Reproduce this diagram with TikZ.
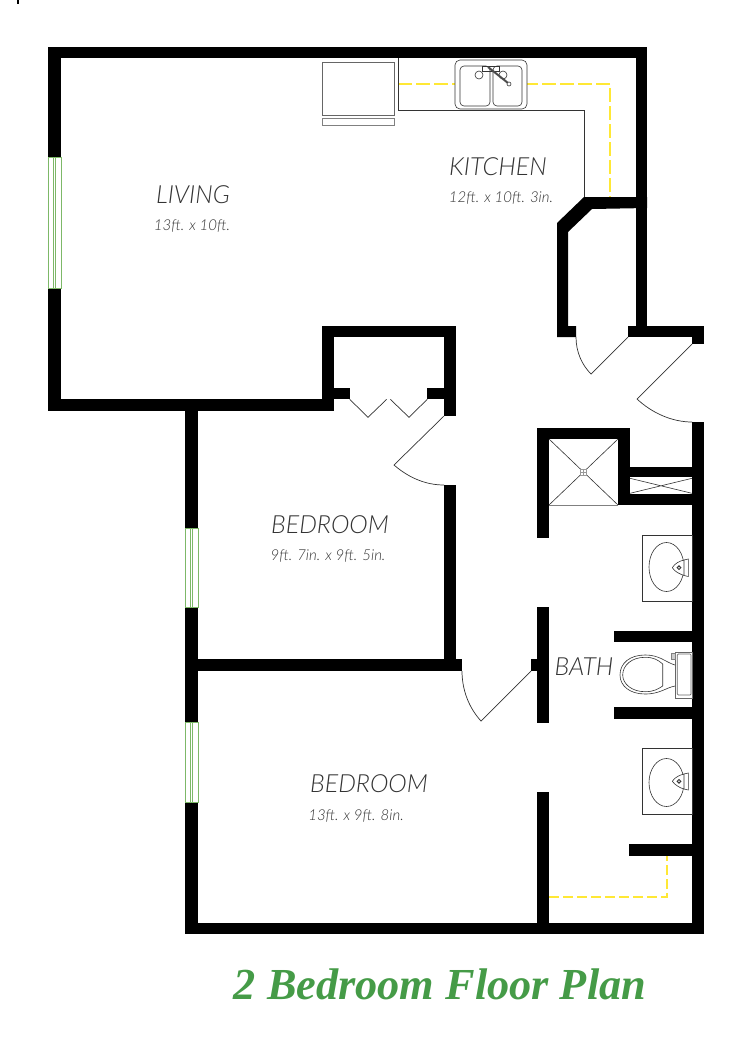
\documentclass[tikz,border=0pt]{standalone}
\usepackage{fontspec}
\setmainfont{Liberation Serif}
\newfontfamily\planfont{Lato}[UprightFont=* Light, ItalicFont=* Light Italic]
\definecolor{planyellow}{HTML}{FFE835}
\definecolor{plangreen}{HTML}{7DB868}
\definecolor{titlegreen}{HTML}{459B47}
\definecolor{plantext}{HTML}{333333}
\begin{document}
\begin{tikzpicture}[x=1pt, y=-1pt]

\useasboundingbox (0,0) rectangle (754,1037);
\tikzset{wall/.style={fill=black}};
\fill[wall] (17,0) rectangle (19,4);
\fill[wall] (48,47) rectangle (647,58);
\fill[wall] (48,47) rectangle (61,157);
\fill[wall] (48,288) rectangle (61,411);
\fill[wall] (48,399) rectangle (334,411);
\fill[wall] (636,47) rectangle (647,326);
\fill[wall] (322,326) rectangle (456,337);
\fill[wall] (322,326) rectangle (334,411);
\fill[wall] (322,388) rectangle (350,399);
\fill[wall] (444,326) rectangle (456,416);
\fill[wall] (427,388) rectangle (456,399);
\fill[wall] (444,485) rectangle (456,671);
\fill[wall] (185,399) rectangle (198,528);
\fill[wall] (185,607) rectangle (198,722);
\fill[wall] (185,802) rectangle (198,934);
\fill[wall] (185,659) rectangle (462,671);
\fill[wall] (185,923) rectangle (704,934);
\fill[wall] (584,197) -- (647,197) -- (647,208) -- (592,209) -- (568,232) -- (568,326)
  -- (576,326) -- (576,337) -- (557,337) -- (557,223) -- cycle;
\fill[wall] (628,326) rectangle (704,337);
\fill[wall] (692,326) rectangle (704,344);
\fill[wall] (692,422) rectangle (704,934);
\fill[wall] (537,428) rectangle (630,439);
\fill[wall] (537,428) rectangle (549,538);
\fill[wall] (618,428) rectangle (630,505);
\fill[wall] (618,467) rectangle (704,477);
\fill[wall] (618,494) rectangle (704,505);
\fill[wall] (537,607) rectangle (549,723);
\fill[wall] (531,659) rectangle (537,671);
\fill[wall] (537,792) rectangle (549,923);
\fill[wall] (614,631) rectangle (704,642);
\fill[wall] (614,707) rectangle (704,719);
\fill[wall] (629,844) rectangle (704,856);

\tikzset{windowpane/.style={draw=plangreen, line width=0.8pt, fill=white}};
\draw[windowpane] (48,157) rectangle (61,288);
\draw[plangreen, line width=0.6pt] (53,157) -- (53,288) (55.7,157) -- (55.7,288);
\draw[windowpane] (185,528) rectangle (198,607);
\draw[plangreen, line width=0.6pt] (190,528) -- (190,607) (192.7,528) -- (192.7,607);
\draw[windowpane] (185,722) rectangle (198,802);
\draw[plangreen, line width=0.6pt] (190,722) -- (190,802) (192.7,722) -- (192.7,802);

\tikzset{doorline/.style={draw=black!80, line width=0.7pt}};
\draw[doorline] (349.7,399.3) -- (368,417.3) -- (386.7,399.3);
\draw[doorline] (390.3,399.3) -- (409,417.3) -- (427.3,399.3);
\draw[doorline] (444,416) -- (394,465) .. controls (409,478) and (426,485) .. (444,485);
\draw[doorline] (628,337) -- (591,374) .. controls (582,365) and (576,352) .. (576,337);
\draw[doorline] (692,344) -- (637,399) .. controls (652,413) and (672,422) .. (692,422);
\draw[doorline] (531,671) -- (481,721) .. controls (469,708) and (462,690) .. (462,671);

\tikzset{yellowline/.style={draw=planyellow, line width=1.2pt, dash pattern=on 14pt off 4pt}};
\draw[yellowline] (398,84) -- (610,84) -- (610,197);
\draw[yellowline, dash pattern=on 10pt off 4pt] (549,897) -- (667,897) -- (667,856);

\tikzset{fixture/.style={draw=black!80, line width=0.6pt}};
\draw[fixture] (398,58) -- (398,110) -- (584,110) -- (584,197);
\draw[draw=black!60, line width=1pt] (322,62) rectangle (394,115);
\draw[draw=black!50, line width=1pt] (322,118) rectangle (394,125);
\draw[fixture, fill=white, rounded corners=5pt] (455,60) rectangle (527,109);
\draw[fixture, rounded corners=4pt] (460,66) rectangle (490,106);
\draw[fixture, rounded corners=4pt] (493,66) rectangle (522,106);
\draw[fixture] (479,75) circle (4);
\draw[fixture] (503,75) circle (4);
\draw[fixture] (482,66) rectangle (499,71);
\draw[draw=black!70, line width=2pt] (488,67) -- (508,83);
\draw[fixture, fill=white] (509,84) circle (2);

\draw[fixture] (549,439) -- (618,505) (618,439) -- (549,505);
\draw[draw=black!50, line width=0.8pt] (549,505) -- (618,505);
\draw[draw=black!40, fill=white, line width=0.5pt] (580,469) rectangle (586,475);
\draw[draw=black!40, line width=0.4pt] (583,469) -- (583,475) (580,472) -- (586,472);
\draw[fixture] (630,478.3) -- (692,493.3) (630,493.3) -- (692,478.3);

\draw[fixture] (642,535) rectangle (692,601);
\draw[fixture] (666.5,567) ellipse (17.5 and 24.5);
\draw[fixture, fill=white] (684,560) -- (688.3,559) -- (688.3,576.5) -- (684,575.5);
\draw[fixture, fill=white] (672.3,567.7) .. controls (675,563) and (680,561) .. (684,560)
  -- (684,575.5) .. controls (680,574) and (675,572) .. (672.3,567.7);
\draw[fixture, line width=1pt] (679,567.7) circle (1.8);

\draw[fixture] (642,748) rectangle (692,814);
\draw[fixture] (666.5,782.5) ellipse (17.5 and 24);
\draw[fixture, fill=white] (684,774) -- (688.3,773) -- (688.3,790) -- (684,789);
\draw[fixture, fill=white] (672.3,781.3) .. controls (675,777) and (680,775) .. (684,774)
  -- (684,789) .. controls (680,788) and (675,785) .. (672.3,781.3);
\draw[fixture, line width=1pt] (679,781.3) circle (1.8);

\draw[draw=black!60, line width=0.7pt] (675,652) rectangle (692,698);
\draw[draw=black!60, line width=0.7pt, rounded corners=1pt] (677.3,654) rectangle (691,695);
\draw[draw=black!50, fill=black!20, line width=0.5pt] (671,653) rectangle (675,659);
\draw[fixture] (675,665) .. controls (665,662) and (660,655) .. (645,655)
  .. controls (630,655) and (620,663) .. (620,675)
  .. controls (620,686) and (630,694) .. (645,694)
  .. controls (660,694) and (665,688) .. (675,686);
\draw[fixture] (662.7,664) .. controls (658,660) and (654,657.3) .. (645,657.3)
  .. controls (632,657.3) and (622.7,665) .. (622.7,675)
  .. controls (622.7,684) and (632,691.7) .. (645,691.7)
  .. controls (654,691.7) and (658,689) .. (662.7,686) -- cycle;

\tikzset{every node/.style={inner sep=0pt, anchor=base, text=plantext, font=\planfont\itshape\fontsize{25}{25}\selectfont}};
\node (living) at (193,203) {LIVING};
\node (kitchen) at (498,175) {KITCHEN};
\node (bedroomone) at (330,533) {BEDROOM};
\node (bedroomtwo) at (369,792) {BEDROOM};
\node (bath) at (584,675) {BATH};
\tikzset{every node/.style={inner sep=0pt, anchor=base, text=plantext, font=\planfont\itshape\fontsize{15}{15}\selectfont}};
\node (livingsize) at (192,230) {13ft. x 10ft.};
\node (kitchensize) at (501,202) {12ft. x 10ft. 3in.};
\node (bedroomonesize) at (328,560) {9ft. 7in. x 9ft. 5in.};
\node (bedroomtwosize) at (356,820) {13ft. x 9ft. 8in.};
\tikzset{every node/.style={inner sep=0pt, anchor=base, text=titlegreen, font=\bfseries\itshape\fontsize{44.3}{44.3}\selectfont}};
\node (plantitle) at (440,999) {2 Bedroom Floor Plan};

\end{tikzpicture}
\end{document}
